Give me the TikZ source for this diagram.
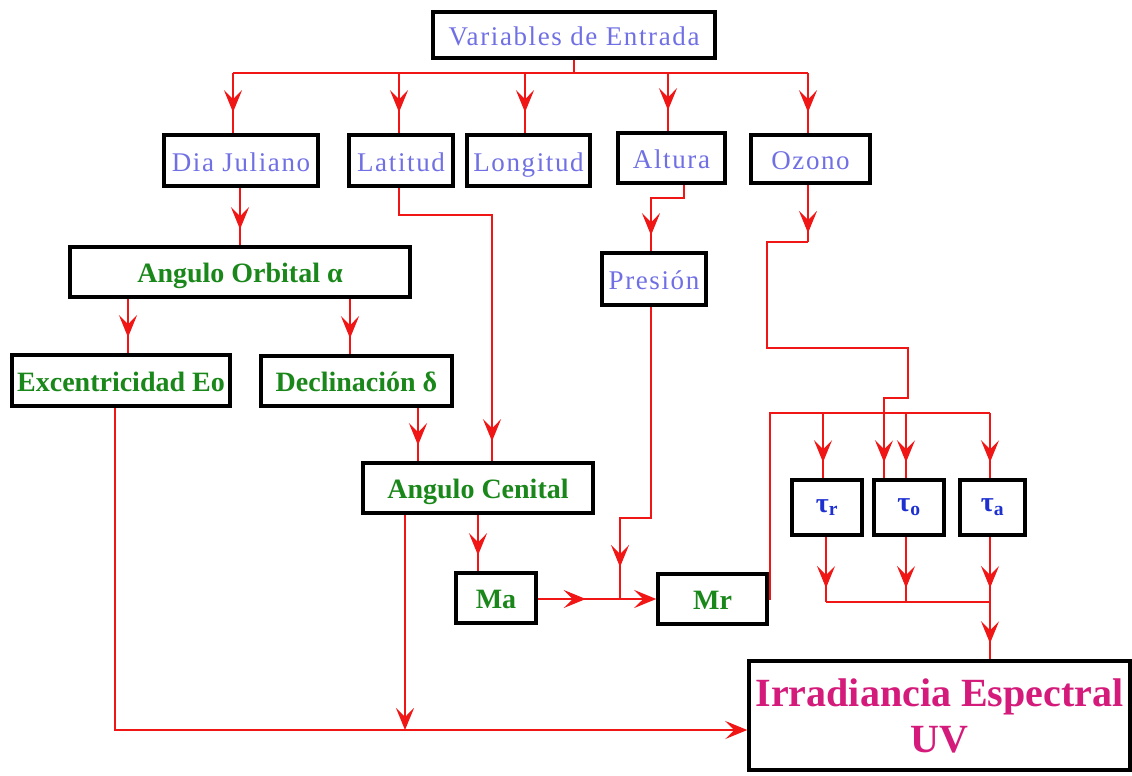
\documentclass[tikz,border=0pt]{standalone}
\usepackage{fontspec}
\setmainfont{Liberation Serif}
\newfontfamily\lblfont[LetterSpace=6]{Liberation Serif}
\usetikzlibrary{arrows.meta,decorations.markings}
\definecolor{lblue}{HTML}{7070E4}
\definecolor{dgreen}{HTML}{1A871A}
\definecolor{tblue}{HTML}{1E30D0}
\definecolor{irrmag}{HTML}{D41A7A}
\definecolor{lred}{HTML}{F01616}
\tikzset{
  >={Stealth[length=22pt,width=18pt,inset=9pt]},
  box/.style={draw=black, line width=3.5pt, fill=white, inner sep=0pt, align=center},
  bl/.style={box, text=lblue, font=\lblfont\fontsize{27}{30}\selectfont, text height=25pt, text depth=4pt},
  gr/.style={box, text=dgreen, font=\bfseries\fontsize{28}{30}\selectfont, text height=25pt, text depth=4pt},
  tau/.style={box, text=tblue, font=\bfseries\fontsize{28}{30}\selectfont, minimum width=70pt, minimum height=55pt},
  irrbox/.style={box, text=irrmag, font=\bfseries\fontsize{40}{46}\selectfont},
  wire/.style={draw=lred, line width=1.1pt},
  arr/.style={draw=lred, line width=2.2pt, postaction={decorate},
    decoration={markings, mark=at position #1 with {\arrow[line width=1pt]{>}}}},
  arr/.default=-16pt
}
\begin{document}
\begin{tikzpicture}[x=1pt,y=-1pt]
\useasboundingbox (0,0) rectangle (1132,776);
% nodes
\node[bl, minimum width=282pt, minimum height=46pt] (var) at (574,35) {Variables de Entrada};
\node[bl, minimum width=154pt, minimum height=51pt] (dia) at (241,160.5) {Dia Juliano};
\node[bl, minimum width=104pt, minimum height=51pt] (lat) at (401,160.5) {Latitud};
\node[bl, minimum width=123pt, minimum height=51pt] (lon) at (528.5,160.5) {Longitud};
\node[bl, minimum width=107pt, minimum height=50pt] (alt) at (671.5,158) {Altura};
\node[bl, minimum width=119pt, minimum height=48pt] (ozo) at (810.5,159) {Ozono};
\node[gr, minimum width=340pt, minimum height=50pt] (orb) at (240,272) {Angulo Orbital α};
\node[gr, minimum width=218pt, minimum height=51pt] (exc) at (121,380.5) {Excentricidad Eo};
\node[gr, minimum width=191pt, minimum height=50pt] (dec) at (356.5,381) {Declinación δ};
\node[bl, minimum width=104pt, minimum height=52pt] (pre) at (654,279) {Presión};
\node[gr, minimum width=230pt, minimum height=50pt] (cen) at (478,488) {Angulo Cenital};
\node[gr, minimum width=80pt, minimum height=50pt] (ma) at (496,598) {Ma};
\node[gr, minimum width=109pt, minimum height=50pt] (mr) at (712.5,599) {Mr};
\node[tau] (tr) at (827,507.5) {τ\textsubscript{r}};
\node[tau] (to) at (909,507.5) {τ\textsubscript{o}};
\node[tau, minimum width=65pt] (ta) at (992.5,507.5) {τ\textsubscript{a}};
\node[irrbox, minimum width=381pt, minimum height=109pt] (irr) at (939.5,715.5) {Irradiancia Espectral\\UV};
% top distribution
\coordinate (v0) at (574,73);
\coordinate (b1) at (233,73);
\coordinate (b2) at (399,73);
\coordinate (b3) at (525,73);
\coordinate (b4) at (668,73);
\coordinate (b5) at (808,73);
\draw[wire] (var.south) -- (v0);
\draw[wire] (b1) -- (b5);
\draw[arr=-21pt] (b1) -- (b1 |- dia.north);
\draw[arr=-21pt] (b2) -- (b2 |- lat.north);
\draw[arr=-21pt] (b3) -- (b3 |- lon.north);
\draw[arr=-21pt] (b4) -- (b4 |- alt.north);
\draw[arr=-21pt] (b5) -- (b5 |- ozo.north);
% left branch
\draw[arr] (dia.south -| orb.north) -- (orb.north);
\draw[arr] (orb.south -| 128,0) -- (exc.north -| 128,0);
\draw[arr] (orb.south -| 350,0) -- (dec.north -| 350,0);
\draw[arr] (dec.south -| 418,0) -- (cen.north -| 418,0);
\draw[wire, postaction={decorate}, decoration={markings, mark=at position -20pt with {\arrow[line width=1pt]{>}}}]
  (lat.south -| 399,0) -- (399,215) -- (492,215) -- (cen.north -| 492,0);
\draw[arr] (cen.south -| 478,0) -- (ma.north -| 478,0);
% altura / presion
\draw[wire, postaction={decorate}, decoration={markings, mark=at position -16pt with {\arrow[line width=1pt]{>}}}]
  (alt.south -| 684,0) -- (684,198) -- (651,198) -- (pre.north -| 651,0);
\coordinate (jn) at (620,599);
\draw[wire, postaction={decorate}, decoration={markings, mark=at position -32pt with {\arrow[line width=1pt]{>}}}]
  (pre.south -| 651,0) -- (651,518) -- (620,518) -- (jn);
% Ma -> Mr
\draw[arr=48pt, ->] (ma.east |- jn) -- (mr.west |- jn);
% ozono
\coordinate (oz1) at (808,242);
\draw[arr=-9pt] (ozo.south -| oz1) -- (oz1);
\draw[wire, postaction={decorate}, decoration={markings, mark=at position -16pt with {\arrow[line width=1pt]{>}}}]
  (oz1) -- (767,242) -- (767,348) -- (908,348) -- (908,398) -- (884,398) -- (to.north -| 884,0);
% Mr -> tau bus
\coordinate (tb0) at (770,413);
\coordinate (tbr) at (823,413);
\coordinate (tbo) at (906,413);
\coordinate (tba) at (990,413);
\draw[wire] (mr.east) -| (tb0) -- (tba);
\draw[arr] (tbr) -- (tbr |- tr.north);
\draw[arr] (tbo) -- (tbo |- to.north);
\draw[arr] (tba) -- (tba |- ta.north);
% tau -> irradiancia
\coordinate (bb1) at (826,602);
\coordinate (bb2) at (906,602);
\coordinate (bb3) at (990,602);
\draw[arr=-14pt] (tr.south -| bb1) -- (bb1);
\draw[arr=-14pt] (to.south -| bb2) -- (bb2);
\draw[arr=-14pt] (ta.south -| bb3) -- (bb3);
\draw[wire] (bb1) -- (bb3);
\draw[arr] (bb3) -- (bb3 |- irr.north);
% bottom lines
\coordinate (ex1) at (115,730);
\coordinate (cz) at (405,730);
\draw[wire, ->] (exc.south -| ex1) -- (ex1) -- (irr.west |- ex1);
\draw[draw=lred, line width=2.2pt, ->] (cen.south -| cz) -- (cz);
\end{tikzpicture}
\end{document}
